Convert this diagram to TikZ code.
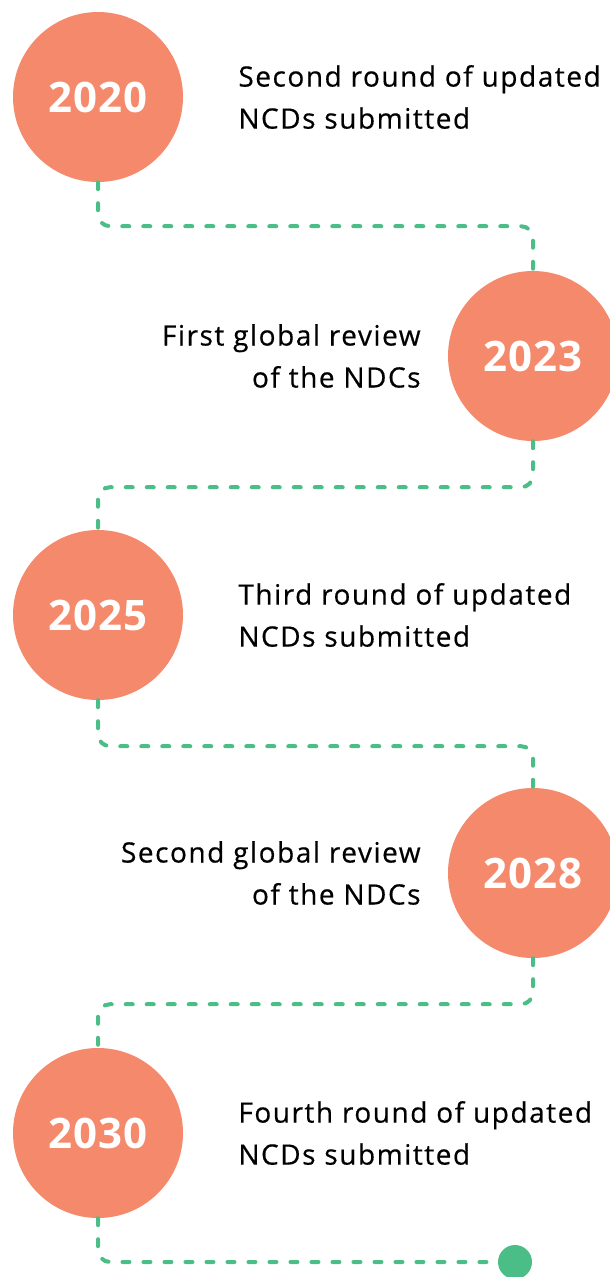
\documentclass[tikz,border=0pt]{standalone}
\usepackage{fontspec}
\setmainfont{Open Sans}[LetterSpace=5.5, FakeBold=0.5]
\newfontfamily\yearfont{Open Sans}[LetterSpace=3]
\usetikzlibrary{positioning}
\definecolor{salmon}{RGB}{245,137,107}
\definecolor{mint}{RGB}{75,190,136}

\tikzset{
	year/.style={circle, fill=salmon, minimum size=170pt, inner sep=0pt,
		text=white, font=\yearfont\bfseries\fontsize{42}{42}\selectfont},
	event/.style={inner sep=0pt, font=\fontsize{28}{42}\selectfont},
	link/.style={mint, line width=4pt, line cap=round,
		dash pattern=on 7pt off 14pt, rounded corners=12pt},
}

\begin{document}
\begin{tikzpicture}[x=1pt, y=-1pt]
	\useasboundingbox (0,0) rectangle (610,1277);
	
	% the years
	\node[year] (y2020) at (98,97) {2020};
	\node[year] (y2023) at (533,356) {2023};
	\node[year] (y2025) at (98,615) {2025};
	\node[year] (y2028) at (533,873) {2028};
	\node[year] (y2030) at (98,1133) {2030};
	
	% what happens
	\node[event, align=left, right=55pt of y2020] (t2020) {Second round of updated\\NCDs submitted};
	\node[event, align=right, left=27pt of y2023] (t2023) {First global review\\of the NDCs};
	\node[event, align=left, right=55pt of y2025] (t2025) {Third round of updated\\NCDs submitted};
	\node[event, align=right, left=27pt of y2028] (t2028) {Second global review\\of the NDCs};
	\node[event, align=left, right=55pt of y2030] (t2030) {Fourth round of updated\\NCDs submitted};
	
	\node[circle, fill=mint, minimum size=34pt, inner sep=0pt] (stop) at (515,1262) {};
	
	% dashed path
	\draw[link] (y2020.south) -- ++(0,44) -| (y2023.north);
	\draw[link] (y2023.south) -- ++(0,46) -| (y2025.north);
	\draw[link] (y2025.south) -- ++(0,46) -| (y2028.north);
	\draw[link] (y2028.south) -- ++(0,46) -| (y2030.north);
	\draw[link] (y2030.south) |- (stop.west);
\end{tikzpicture}
\end{document}
